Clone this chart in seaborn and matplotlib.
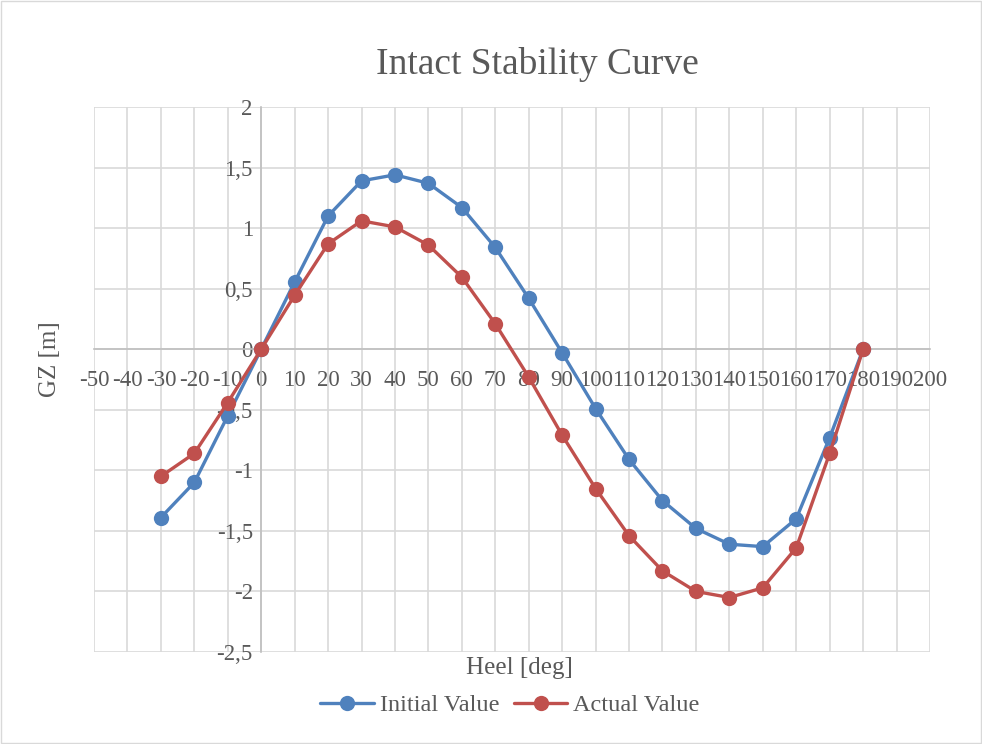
import matplotlib
matplotlib.use("Agg")
import matplotlib.pyplot as plt
import matplotlib.patches as mpatches
import seaborn as sns
import pandas as pd

heel = [-30, -20, -10, 0, 10, 20, 30, 40, 50, 60, 70, 80, 90, 100, 110, 120, 130, 140, 150, 160, 170, 180]
initial_value = [-1.39, -1.10, -0.55, 0.0, 0.555, 1.10, 1.39, 1.44, 1.37, 1.17, 0.84, 0.42, -0.03, -0.49,
                 -0.91, -1.25, -1.48, -1.61, -1.63, -1.40, -0.73, 0.0]
actual_value = [-1.05, -0.86, -0.44, 0.0, 0.445, 0.87, 1.06, 1.01, 0.86, 0.595, 0.21, -0.23, -0.71, -1.15,
                -1.54, -1.83, -2.00, -2.05, -1.97, -1.64, -0.86, 0.0]
series_names = ["Initial Value", "Actual Value"]
x_ticks = list(range(-50, 201, 10))
y_ticks = [-2.5, -2, -1.5, -1, -0.5, 0, 0.5, 1, 1.5, 2]
y_tick_labels = ["-2,5", "-2", "-1,5", "-1", "-0,5", "0", "0,5", "1", "1,5", "2"]

df = pd.DataFrame({
    "Heel": heel * 2,
    "GZ": initial_value + actual_value,
    "Series": [series_names[0]] * len(heel) + [series_names[1]] * len(heel),
})

sns.set_theme(style="white")
plt.rcParams["font.family"] = ["Liberation Serif", "DejaVu Serif"]
TXT = "#595959"

fig = plt.figure(figsize=(9.82, 7.44), dpi=100)
ax = fig.add_axes([94 / 982, 1 - 652 / 744, (930 - 94) / 982, (652 - 107) / 744])

palette = {"Initial Value": "#4F81BD", "Actual Value": "#C0504D"}
sns.lineplot(data=df, x="Heel", y="GZ", hue="Series", palette=palette, marker="o",
             markersize=11, markeredgewidth=0, linewidth=2.4, ax=ax, legend=False, zorder=3)

ax.set_xlim(-50, 200)
ax.set_ylim(-2.5, 2)
ax.set_xticks(x_ticks)
ax.set_xticklabels([str(t) for t in x_ticks])
ax.set_yticks(y_ticks)
ax.set_yticklabels(y_tick_labels)
ax.grid(True, color="#D9D9D9", linewidth=1.2, zorder=0)
ax.set_axisbelow(True)
for s in ["top", "right"]:
    ax.spines[s].set_visible(False)
ax.spines["left"].set_position(("data", 0))
ax.spines["bottom"].set_position(("data", 0))
for s in ["left", "bottom"]:
    ax.spines[s].set_color("#BFBFBF")
    ax.spines[s].set_linewidth(1.2)
ax.tick_params(axis="both", length=0, labelsize=16.5, colors=TXT)
ax.tick_params(axis="x", pad=15)
ax.tick_params(axis="y", pad=6)
ax.set_xlabel("")
ax.set_ylabel("")

fig.text(537 / 982, 1 - 65 / 744, "Intact Stability Curve", ha="center", va="center", fontsize=27, color=TXT)
fig.text(519 / 982, 1 - 668 / 744, "Heel [deg]", ha="center", va="center", fontsize=18, color=TXT)
fig.text(50 / 982, 1 - 359 / 744, "GZ [m]", ha="center", va="center", fontsize=18, color=TXT, rotation=90)

handles = [plt.Line2D([], [], color=palette[n], marker="o", markersize=11, markeredgewidth=0, linewidth=2.4)
           for n in series_names]
fig.legend(handles, series_names, loc="center", bbox_to_anchor=(510 / 982, 1 - 705 / 744), ncol=2,
           frameon=False, fontsize=17.5, labelcolor=TXT, handlelength=2.2, columnspacing=0.6,
           handletextpad=0.25)

fig.patches.append(mpatches.Rectangle((0.001, 0.001), 0.998, 0.998, transform=fig.transFigure,
                                      fill=False, edgecolor="#D9D9D9", linewidth=1))
fig.savefig("out.png", dpi=100)
